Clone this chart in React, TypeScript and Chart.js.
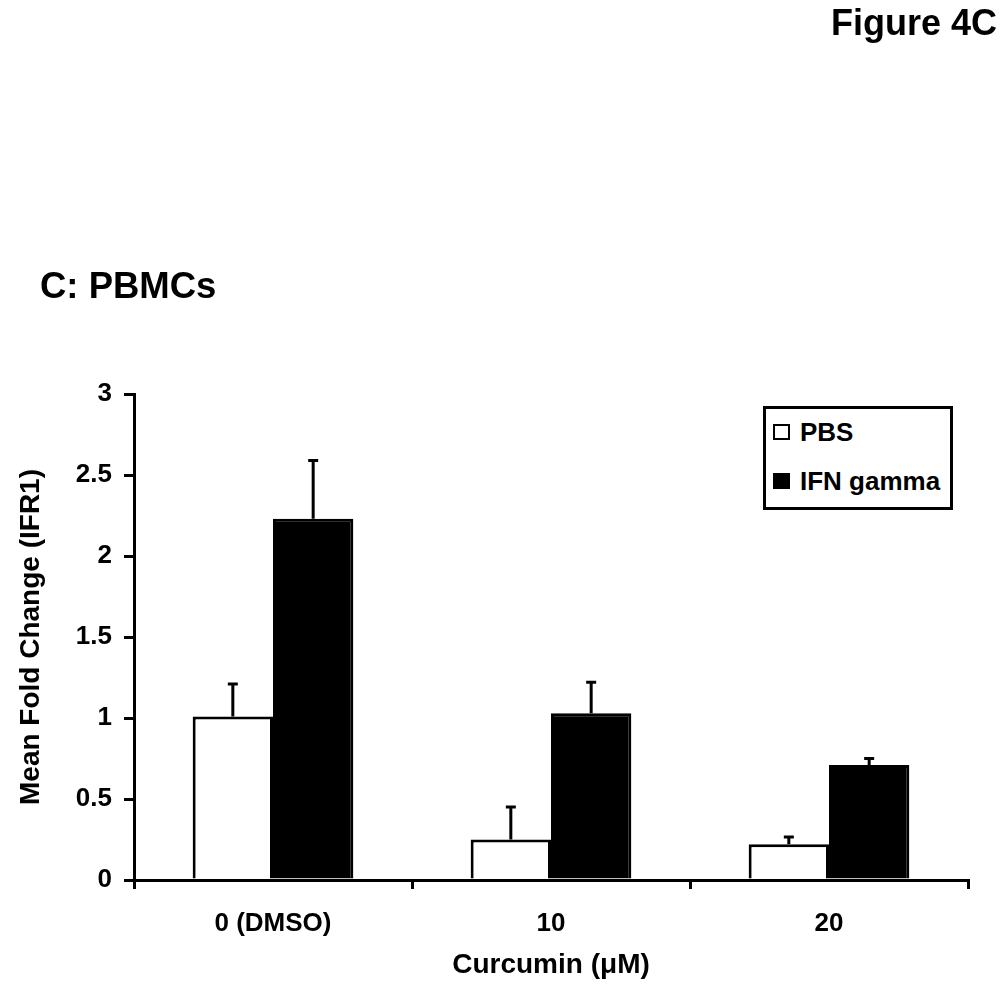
import React, { useEffect, useRef } from 'react';
import { Chart, registerables } from 'chart.js';

Chart.register(...registerables);

const categories = ['0 (DMSO)', '10', '20'];
const seriesNames = ['PBS', 'IFN gamma'];
const seriesColors = ['#ffffff', '#000000'];
const pbsValues = [1.01, 0.25, 0.22];
const pbsErrors = [0.2, 0.2, 0.045];
const ifnValues = [2.23, 1.03, 0.71];
const ifnErrors = [0.36, 0.19, 0.04];
const yTickLabels = ['0', '0.5', '1', '1.5', '2', '2.5', '3'];
const xAxisTitle = 'Curcumin (\u03bcM)';
const yAxisTitle = 'Mean Fold Change (IFR1)';
const figureLabel = 'Figure 4C';
const panelTitle = 'C: PBMCs';

const FONT = "'Liberation Sans', Arial, Helvetica, sans-serif";

const errorBarPlugin = {
  id: 'errorBars',
  afterDatasetsDraw(chart: any) {
    const ctx = chart.ctx;
    const yScale = chart.scales.y;
    chart.data.datasets.forEach((ds: any, i: number) => {
      const meta = chart.getDatasetMeta(i);
      meta.data.forEach((el: any, j: number) => {
        const v = ds.data[j];
        const e = ds.errors[j];
        const yTop = yScale.getPixelForValue(v + e);
        const yBar = yScale.getPixelForValue(v);
        ctx.save();
        ctx.strokeStyle = '#000';
        ctx.lineWidth = 3;
        ctx.beginPath();
        ctx.moveTo(el.x, yBar);
        ctx.lineTo(el.x, yTop);
        ctx.moveTo(el.x - 5, yTop);
        ctx.lineTo(el.x + 5, yTop);
        ctx.stroke();
        ctx.restore();
      });
    });
  },
};

export default function App() {
  const canvasRef = useRef<HTMLCanvasElement | null>(null);

  useEffect(() => {
    if (!canvasRef.current) return;
    const chart = new Chart(canvasRef.current, {
      type: 'bar',
      data: {
        labels: categories,
        datasets: [
          {
            label: seriesNames[0],
            data: pbsValues,
            errors: pbsErrors,
            backgroundColor: seriesColors[0],
            borderColor: '#000',
            borderWidth: 3,
            categoryPercentage: 0.578,
            barPercentage: 1,
          } as any,
          {
            label: seriesNames[1],
            data: ifnValues,
            errors: ifnErrors,
            backgroundColor: seriesColors[1],
            borderColor: '#000',
            borderWidth: 3,
            categoryPercentage: 0.578,
            barPercentage: 1,
          } as any,
        ],
      },
      options: {
        responsive: false,
        animation: false,
        layout: { padding: { top: 394, right: 39, left: 0, bottom: 0 } },
        plugins: {
          legend: { display: false },
          tooltip: { enabled: false },
          title: { display: false },
        },
        scales: {
          x: {
            offset: true,
            grid: {
              display: true,
              offset: true,
              drawOnChartArea: false,
              drawTicks: true,
              tickLength: 9,
              color: '#000',
              lineWidth: 3,
            },
            border: { display: true, color: '#000', width: 3 },
            ticks: {
              color: '#000',
              padding: 19,
              font: { family: FONT, size: 26, weight: 'bold' },
            },
            title: {
              display: true,
              text: xAxisTitle,
              color: '#000',
              padding: { top: 12, bottom: 12 },
              font: { family: FONT, size: 28, weight: 'bold' },
            },
            afterFit: (scale: any) => {
              scale.height = 114;
            },
          },
          y: {
            min: 0,
            max: 3,
            grid: {
              display: true,
              drawOnChartArea: false,
              drawTicks: true,
              tickLength: 10,
              color: '#000',
              lineWidth: 3,
            },
            border: { display: true, color: '#000', width: 3 },
            ticks: {
              stepSize: 0.5,
              color: '#000',
              padding: 12,
              font: { family: FONT, size: 26, weight: 'bold' },
              callback: (_v: any, i: number) => yTickLabels[i],
            },
            title: {
              display: true,
              text: yAxisTitle,
              color: '#000',
              padding: { top: 14, bottom: 0 },
              font: { family: FONT, size: 28, weight: 'bold' },
            },
            afterFit: (scale: any) => {
              scale.width = 134;
            },
          },
        },
      } as any,
      plugins: [errorBarPlugin],
    });
    return () => chart.destroy();
  }, []);

  const textStyle: React.CSSProperties = {
    position: 'absolute',
    fontFamily: FONT,
    fontWeight: 'bold',
    color: '#000',
    whiteSpace: 'nowrap',
  };

  return (
    <div style={{ position: 'absolute', left: 0, top: 0, width: 1007, height: 994, background: '#fff', overflow: 'hidden' }}>
      <canvas ref={canvasRef} width={1007} height={994} style={{ position: 'absolute', left: 0, top: 0, width: 1007, height: 994 }} />
      <div style={{ ...textStyle, right: 10, top: 5, fontSize: 36, lineHeight: '36px' }}>{figureLabel}</div>
      <div style={{ ...textStyle, left: 40, top: 268, fontSize: 36.5, lineHeight: '36px' }}>{panelTitle}</div>
      <div
        style={{
          position: 'absolute',
          left: 763,
          top: 406,
          width: 190,
          height: 104,
          border: '3px solid #000',
          boxSizing: 'border-box',
          background: '#fff',
        }}
      >
        {seriesNames.map((name, i) => (
          <div
            key={name}
            style={{
              position: 'absolute',
              left: 7,
              top: i === 0 ? 8 : 57,
              height: 30,
              display: 'flex',
              alignItems: 'center',
            }}
          >
            <div
              style={{
                width: 17,
                height: 16,
                border: '2px solid #000',
                boxSizing: 'border-box',
                background: seriesColors[i],
              }}
            />
            <span style={{ ...textStyle, position: 'static', marginLeft: 10, fontSize: 26, lineHeight: '30px' }}>{name}</span>
          </div>
        ))}
      </div>
    </div>
  );
}
